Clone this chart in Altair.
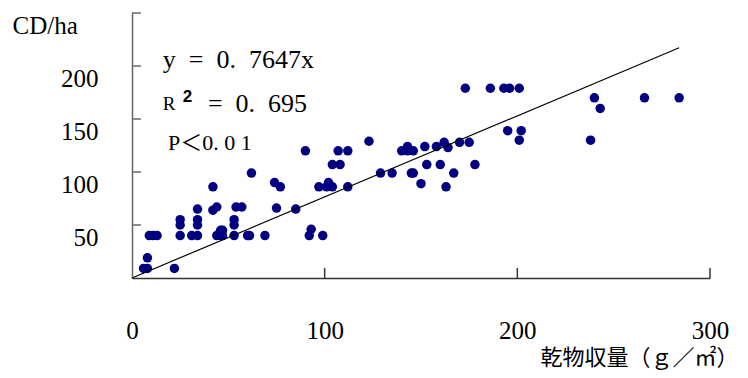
import altair as alt
import pandas as pd

# Scatter data (dry matter yield g/m2 vs CD/ha)
x_vals = [6, 8, 8, 22, 9, 11, 13, 25, 31, 34, 44, 46, 47, 53, 60, 61, 69, 92, 99,
          46, 47, 93, 25, 34, 53, 25, 34, 53, 34, 42, 44, 54, 57, 75, 85, 42, 62,
          74, 77, 97, 102, 101, 104, 112, 90, 107, 112, 123, 104, 108, 129, 135,
          145, 146, 153, 160, 167, 178, 150, 163, 140, 143, 146, 143, 152, 158,
          162, 164, 170, 175, 173, 186, 193, 196, 201, 195, 202, 201, 240, 243,
          266, 284, 238]
y_vals = [9, 9, 19, 9, 40, 40, 40, 40, 40, 40, 40, 40, 40, 40, 40, 40, 40, 40, 40,
          45, 45, 46, 50, 50, 50, 55, 55, 55, 65, 64, 67, 67, 67, 66, 65, 86, 99,
          90, 86, 86, 90, 86, 86, 86, 120, 120, 120, 129, 107, 107, 99, 99,
          99, 99, 107, 107, 99, 107, 89, 86, 120, 124, 120, 120, 124, 124,
          128, 123, 128, 128, 179, 179, 179, 179, 179, 139, 139, 130, 170, 160,
          170, 170, 130]

slope = 0.7647
line_x = [0, 284]

x_ticks = [0, 100, 200, 300]
y_labels = [50, 100, 150, 200]
y_tick_marks = [50, 100, 150, 200, 250]
x_tick_marks = [100, 200, 300]

S = "\u00a0"
ann_text = ["y" + S * 2 + "=" + S * 2 + "0." + S * 2 + "7647x", "R", "2",
            "=" + S * 2 + "0." + S * 2 + "695", "P＜0." + S + "0" + S + "1"]
ann_x = [16, 16, 26.4, 39.4, 18.7]
ann_y = [205.7, 164, 170.7, 164, 127]

W, H = 578, 265
serif = "Liberation Serif"

pts = pd.DataFrame({"x": x_vals, "y": y_vals})
line_df = pd.DataFrame({"x": line_x, "y": [slope * v for v in line_x]})
ann = pd.DataFrame({"t": ann_text, "x": ann_x, "y": ann_y})
yt = pd.DataFrame({"y": y_tick_marks})
xt = pd.DataFrame({"x": x_tick_marks})

xscale = alt.Scale(domain=[0, 300], nice=False, zero=False)
yscale = alt.Scale(domain=[0, 250], nice=False, zero=False)

xaxis = alt.Axis(values=x_ticks, ticks=False, grid=False, labelFont=serif,
                 labelFontSize=25, labelColor="#000", labelPadding=40,
                 labelFlush=False,
                 domainColor="#333", domainWidth=1.5,
                 title="乾物収量（ｇ／㎡）", titleFont="Noto Sans CJK JP",
                 titleFontSize=22, titleFontWeight="normal", titleColor="#000",
                 titleAnchor="end", titleAlign="right", titleBaseline="alphabetic",
                 titleX=606, titleY=86)
yaxis = alt.Axis(values=y_labels, ticks=True, tickSize=0, tickOpacity=0,
                 grid=False, labelFont=serif,
                 labelFontSize=25, labelColor="#000", labelPadding=34,
                 labelBaseline="top", labelFlush=False,
                 domainColor="#666", domainWidth=1.5,
                 title="CD/ha", titleFont=serif, titleFontSize=25,
                 titleFontWeight="normal", titleColor="#000", titleAngle=0,
                 titleAlign="left", titleBaseline="middle", titleX=-120, titleY=12)

points = alt.Chart(pts).mark_circle(size=90, color="#000080", opacity=1).encode(
    x=alt.X("x:Q", scale=xscale, axis=xaxis),
    y=alt.Y("y:Q", scale=yscale, axis=yaxis),
)

reg = alt.Chart(line_df).mark_line(color="#000", strokeWidth=1.2).encode(
    x=alt.X("x:Q", scale=xscale), y=alt.Y("y:Q", scale=yscale)
)

ytick = alt.Chart(yt).mark_rule(color="#666", strokeWidth=1.5).encode(
    y=alt.Y("y:Q", scale=yscale), x=alt.value(0), x2=alt.value(9)
)
xtick = alt.Chart(xt).mark_rule(color="#333", strokeWidth=1.5).encode(
    x=alt.X("x:Q", scale=xscale), y=alt.value(H), y2=alt.value(H - 10)
)

def ann_layer(i, font, size, weight="normal"):
    return alt.Chart(ann.iloc[[i]]).mark_text(
        align="left", baseline="middle", font=font, fontSize=size,
        fontWeight=weight, color="#000"
    ).encode(x=alt.X("x:Q", scale=xscale), y=alt.Y("y:Q", scale=yscale), text="t:N")

texts = [
    ann_layer(0, serif, 26),
    ann_layer(1, serif, 19),
    ann_layer(2, "Liberation Sans", 17, "bold"),
    ann_layer(3, serif, 26),
    ann_layer(4, serif + ", Noto Sans CJK JP", 22),
]

chart = alt.layer(points, reg, ytick, xtick, *texts).properties(
    width=W, height=H,
    autosize=alt.AutoSizeParams(type="none"),
    padding={"left": 124, "top": 5, "right": 30, "bottom": 92},
).configure_view(stroke=None)

chart.save("out.html", embed_options={"renderer": "svg", "actions": False})
